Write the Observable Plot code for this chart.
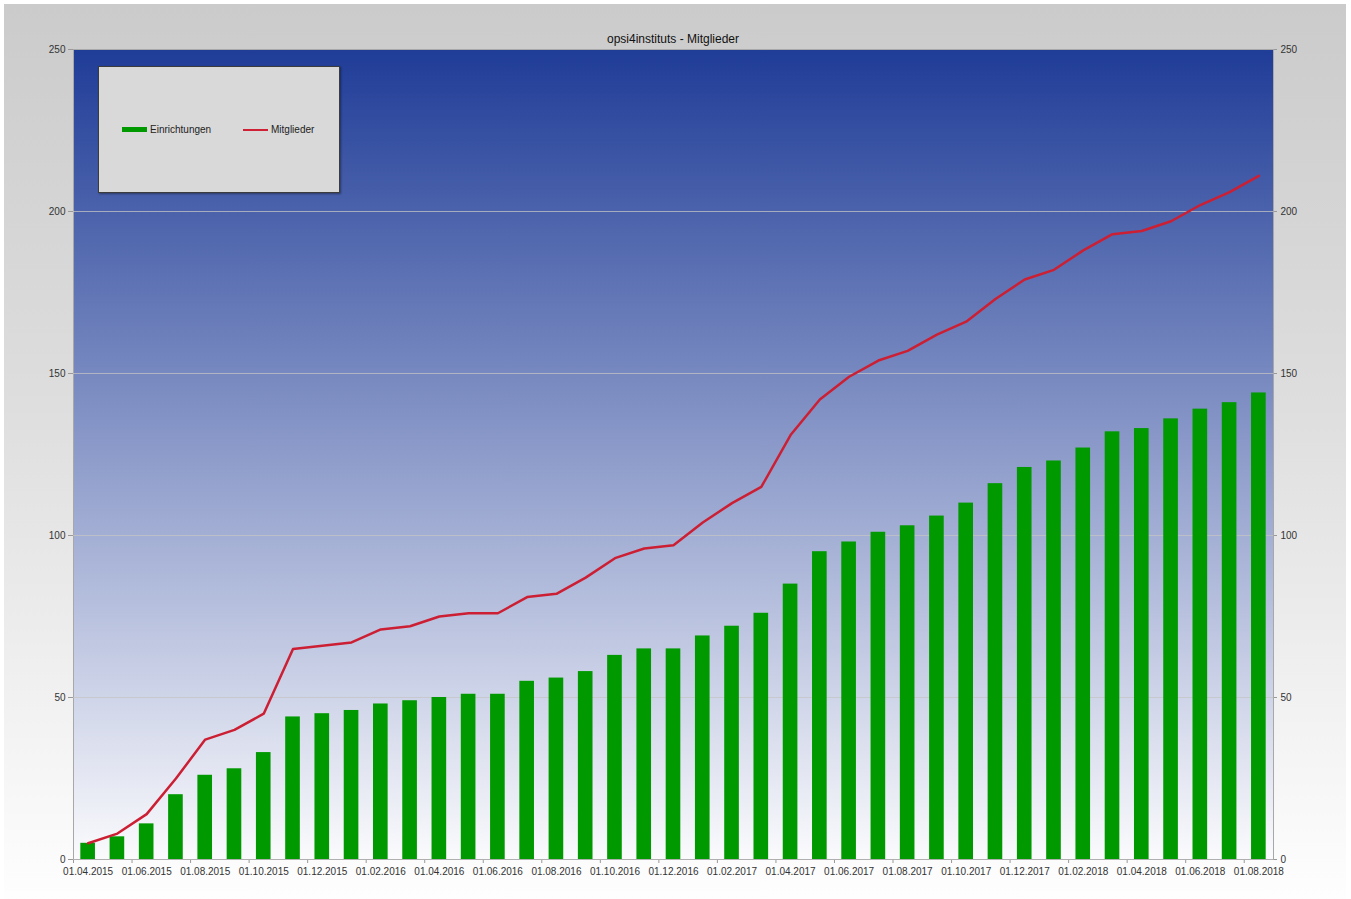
<!DOCTYPE html>
<html>
<head>
<meta charset="utf-8">
<script src="https://cdn.jsdelivr.net/npm/d3@7"></script>
<script src="https://cdn.jsdelivr.net/npm/@observablehq/plot@0.6"></script>
<style>
  html, body { margin: 0; padding: 0; background: #ffffff; }
  #wrap { position: relative; width: 1351px; height: 899px; overflow: hidden; font-family: "Liberation Sans", Arial, sans-serif; }
  #panel { position: absolute; left: 4px; top: 4px; width: 1342px; height: 895px;
           background: linear-gradient(to bottom, #cbcbcb 0%, #dedede 45%, #fefefe 100%); }
  #chart { position: absolute; left: 0; top: 0; }
  #title { position: absolute; left: 73px; width: 1200px; top: 32px; text-align: center; font-size: 12px; color: #111; }
  #legend { position: absolute; left: 98px; top: 66px; width: 240px; height: 125px; background: #d9d9d9;
            border: 1.5px solid #3c3c3c; box-shadow: 1px 1px 2px rgba(0,0,0,0.4); }
  .item { position: absolute; top: 57px; font-size: 10px; color: #222; display: flex; align-items: center; }
  .sw { display: inline-block; width: 25px; margin-right: 3px; }
</style>
</head>
<body>
<div id="wrap">
  <div id="panel"></div>
  <div id="chart"></div>
  <div id="title">opsi4instituts - Mitglieder</div>
  <div id="legend">
    <div class="item" style="left:23px"><span class="sw" style="height:5px;background:#009900"></span>Einrichtungen</div>
    <div class="item" style="left:144px"><span class="sw" style="height:2px;background:#d02035"></span>Mitglieder</div>
  </div>
</div>
<script>
const months = [
  "01.04.2015","01.05.2015","01.06.2015","01.07.2015","01.08.2015","01.09.2015","01.10.2015","01.11.2015","01.12.2015",
  "01.01.2016","01.02.2016","01.03.2016","01.04.2016","01.05.2016","01.06.2016","01.07.2016","01.08.2016","01.09.2016",
  "01.10.2016","01.11.2016","01.12.2016","01.01.2017","01.02.2017","01.03.2017","01.04.2017","01.05.2017","01.06.2017",
  "01.07.2017","01.08.2017","01.09.2017","01.10.2017","01.11.2017","01.12.2017","01.01.2018","01.02.2018","01.03.2018",
  "01.04.2018","01.05.2018","01.06.2018","01.07.2018","01.08.2018"
];
const einrichtungen = [
  5, 7, 11, 20, 26, 28, 33, 44, 45,
  46, 48, 49, 50, 51, 51, 55, 56, 58,
  63, 65, 65, 69, 72, 76, 85, 95, 98,
  101, 103, 106, 110, 116, 121, 123, 127, 132,
  133, 136, 139, 141, 144
];
const mitglieder = [
  5, 8, 14, 25, 37, 40, 45, 65, 66,
  67, 71, 72, 75, 76, 76, 81, 82, 87,
  93, 96, 97, 104, 110, 115, 131, 142, 149,
  154, 157, 162, 166, 173, 179, 182, 188, 193,
  194, 197, 202, 206, 211
];
const yTicks = [0, 50, 100, 150, 200, 250];
const gridTicks = [50, 100, 150, 200];
const xLabels = months.filter((d, i) => i % 2 === 0);

const rows = months.map((m, i) => ({month: m, einrichtungen: einrichtungen[i], mitglieder: mitglieder[i]}));

const W = 1351, H = 899;
const mL = 73, mR = 78, mT = 49, mB = 40;
const bandStep = (W - mL - mR) / months.length;

const chart = Plot.plot({
  width: W,
  height: H,
  marginLeft: mL,
  marginRight: mR,
  marginTop: mT,
  marginBottom: mB,
  style: {background: "transparent", fontFamily: "Liberation Sans, Arial, sans-serif", fontSize: "10px", color: "#333"},
  x: {type: "band", domain: months, paddingInner: 0.5, paddingOuter: 0.25, align: 0.5, round: false, label: null},
  y: {domain: [0, 250], label: null},
  marks: [
    Plot.frame({fill: "url(#plotbg)", stroke: "#a8a8a8"}),
    Plot.gridY(gridTicks, {stroke: "#c4c4c4", strokeOpacity: 0.75, strokeWidth: 1}),
    Plot.axisY(yTicks, {anchor: "left", tickSize: 5, tickPadding: 3, fontSize: 10, color: "#333", stroke: "#999", label: null}),
    Plot.axisY(yTicks, {anchor: "right", tickSize: 3, tickPadding: 4, fontSize: 10, color: "#333", stroke: "#999", label: null}),
    Plot.axisX(xLabels, {anchor: "bottom", tickSize: 0, tickPadding: 8, fontSize: 10, color: "#333", label: null}),
    Plot.axisX(xLabels, {anchor: "bottom", tickSize: 4, text: null, stroke: "#999", dx: -bandStep / 2}),
    Plot.barY(rows, {x: "month", y: "einrichtungen", fill: "#009900"}),
    Plot.line(rows, {x: "month", y: "mitglieder", stroke: "#cc1f33", strokeWidth: 2.5}),
    Plot.ruleY([0], {stroke: "#b0b0b0"})
  ]
});

const ns = "http://www.w3.org/2000/svg";
const defs = document.createElementNS(ns, "defs");
const grad = document.createElementNS(ns, "linearGradient");
grad.setAttribute("id", "plotbg");
grad.setAttribute("x1", "0"); grad.setAttribute("y1", "0");
grad.setAttribute("x2", "0"); grad.setAttribute("y2", "1");
[["0", "#1f3c97"], ["1", "#fbfbfd"]].forEach(([o, c]) => {
  const s = document.createElementNS(ns, "stop");
  s.setAttribute("offset", o);
  s.setAttribute("stop-color", c);
  grad.appendChild(s);
});
defs.appendChild(grad);
chart.insertBefore(defs, chart.firstChild);
document.getElementById("chart").appendChild(chart);
</script>
</body>
</html>
